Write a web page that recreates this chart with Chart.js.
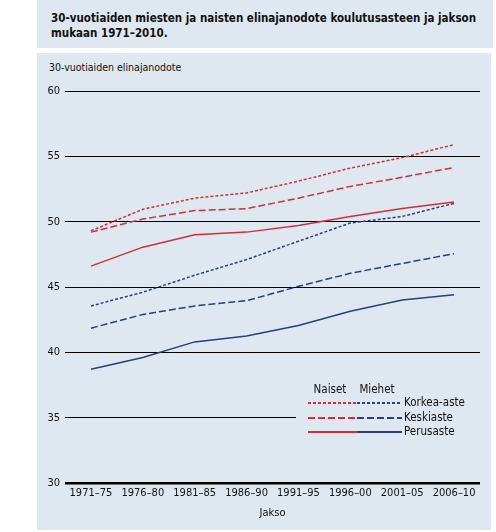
<!DOCTYPE html>
<html>
<head>
<meta charset="utf-8">
<script src="https://cdn.jsdelivr.net/npm/chart.js@4"></script>
<style>
    body { margin: 0; background: #fff; width: 496px; height: 532px; position: relative; overflow: hidden; font-family: 'DejaVu Sans Condensed', sans-serif; }
    .panel { position: absolute; background: #dfe7f0; }
    #title { left: 37px; top: 0; width: 456px; height: 48px; }
    #title div { position: absolute; left: 14px; top: 11px; font-weight: bold; font-size: 11.5px; line-height: 15px; color: #111; white-space: nowrap; }
    #plot { left: 37px; top: 53px; width: 454px; height: 477px; }
    #ylabel { position: absolute; left: 49px; top: 61px; font-size: 10.5px; color: #111; }
    #wrap { position: absolute; left: 0; top: 0; width: 496px; height: 532px; }
</style>
</head>
<body>
<div class="panel" id="title"><div>30-vuotiaiden miesten ja naisten elinajanodote koulutusasteen ja jakson<br>mukaan 1971–2010.</div></div>
<div class="panel" id="plot"></div>
<div id="ylabel">30-vuotiaiden elinajanodote</div>
<div id="wrap"><canvas id="chart"></canvas></div>
<script>
const periods = ['1971–75', '1976–80', '1981–85', '1986–90', '1991–95', '1996–00', '2001–05', '2006–10'];
const naisetKorkea = [49.3, 50.95, 51.8, 52.2, 53.1, 54.1, 54.9, 55.9];
const naisetKeski = [49.2, 50.2, 50.85, 51.0, 51.8, 52.7, 53.4, 54.15];
const naisetPerus = [46.6, 48.05, 49.0, 49.2, 49.7, 50.4, 51.0, 51.5];
const miehetKorkea = [43.55, 44.6, 45.9, 47.1, 48.5, 49.9, 50.4, 51.4];
const miehetKeski = [41.85, 42.9, 43.55, 43.95, 45.05, 46.05, 46.8, 47.55];
const miehetPerus = [38.7, 39.6, 40.8, 41.25, 42.05, 43.15, 44.0, 44.4];
const levels = ['Korkea-aste', 'Keskiaste', 'Perusaste'];

const RED = '#cf2f3c';
const BLUE = '#2d3e7c';
const PANEL = '#dfe7f0';
const DOTTED = [3, 2];
const DASHED = [7, 3];
const FONT = "'DejaVu Sans Condensed', sans-serif";

function line(label, data, color, dash) {
    return {
        label: label,
        data: data,
        borderColor: color,
        backgroundColor: color,
        borderWidth: 1.5,
        borderDash: dash,
        pointRadius: 0,
        tension: 0,
        fill: false
    };
}

// legend drawn by hand: two line samples per row, then the label
const legendBox = {
    id: 'legendBox',
    beforeDatasetsDraw(chart) {
        const ctx = chart.ctx;
        const ds = chart.data.datasets;
        ctx.save();
        ctx.fillStyle = PANEL;
        ctx.fillRect(296, 378, 186, 64);
        ctx.font = '11.5px ' + FONT;
        ctx.fillStyle = '#111';
        ctx.textBaseline = 'middle';
        ctx.textAlign = 'center';
        ctx.fillText('Naiset', 330, 390);
        ctx.fillText('Miehet', 377, 390);
        ctx.textAlign = 'left';
        const rows = [403, 418, 432];
        for (let i = 0; i < 3; i++) {
            const y = rows[i];
            const pairs = [[ds[i], 308, 357], [ds[i + 3], 357, 402]];
            pairs.forEach(p => {
                ctx.beginPath();
                ctx.strokeStyle = p[0].borderColor;
                ctx.lineWidth = 2;
                ctx.setLineDash(p[0].borderDash);
                ctx.moveTo(p[1], y);
                ctx.lineTo(p[2], y);
                ctx.stroke();
            });
            ctx.setLineDash([]);
            ctx.fillText(levels[i], 404, y);
        }
        ctx.restore();
    }
};

var ctx = document.querySelector('#chart').getContext('2d');
var myChart = new Chart(ctx, {
    type: 'line',
    data: {
        labels: periods,
        datasets: [
            line('Naiset Korkea-aste', naisetKorkea, RED, DOTTED),
            line('Naiset Keskiaste', naisetKeski, RED, DASHED),
            line('Naiset Perusaste', naisetPerus, RED, []),
            line('Miehet Korkea-aste', miehetKorkea, BLUE, DOTTED),
            line('Miehet Keskiaste', miehetKeski, BLUE, DASHED),
            line('Miehet Perusaste', miehetPerus, BLUE, [])
        ]
    },
    options: {
        responsive: true,
        maintainAspectRatio: false,
        animation: false,
        layout: { padding: { top: 91, right: 16, bottom: 0, left: 0 } },
        plugins: {
            legend: { display: false },
            tooltip: { enabled: false }
        },
        scales: {
            x: {
                offset: true,
                grid: { display: false, drawTicks: false },
                border: { display: false },
                ticks: { color: '#111', font: { family: FONT, size: 11 }, padding: 4, maxRotation: 0 },
                title: { display: true, text: 'Jakso', color: '#111', font: { family: FONT, size: 11 }, padding: { top: 2, bottom: 12 } },
                afterFit: axis => { axis.height = 49; }
            },
            y: {
                min: 30,
                max: 60,
                border: { display: false },
                grid: {
                    drawTicks: false,
                    color: '#000',
                    lineWidth: c => c.tick.value === 30 ? 2.5 : 1
                },
                ticks: { stepSize: 5, color: '#111', font: { family: FONT, size: 11 }, padding: 5 },
                afterFit: axis => { axis.width = 65; }
            }
        }
    },
    plugins: [legendBox]
});
</script>
</body>
</html>
